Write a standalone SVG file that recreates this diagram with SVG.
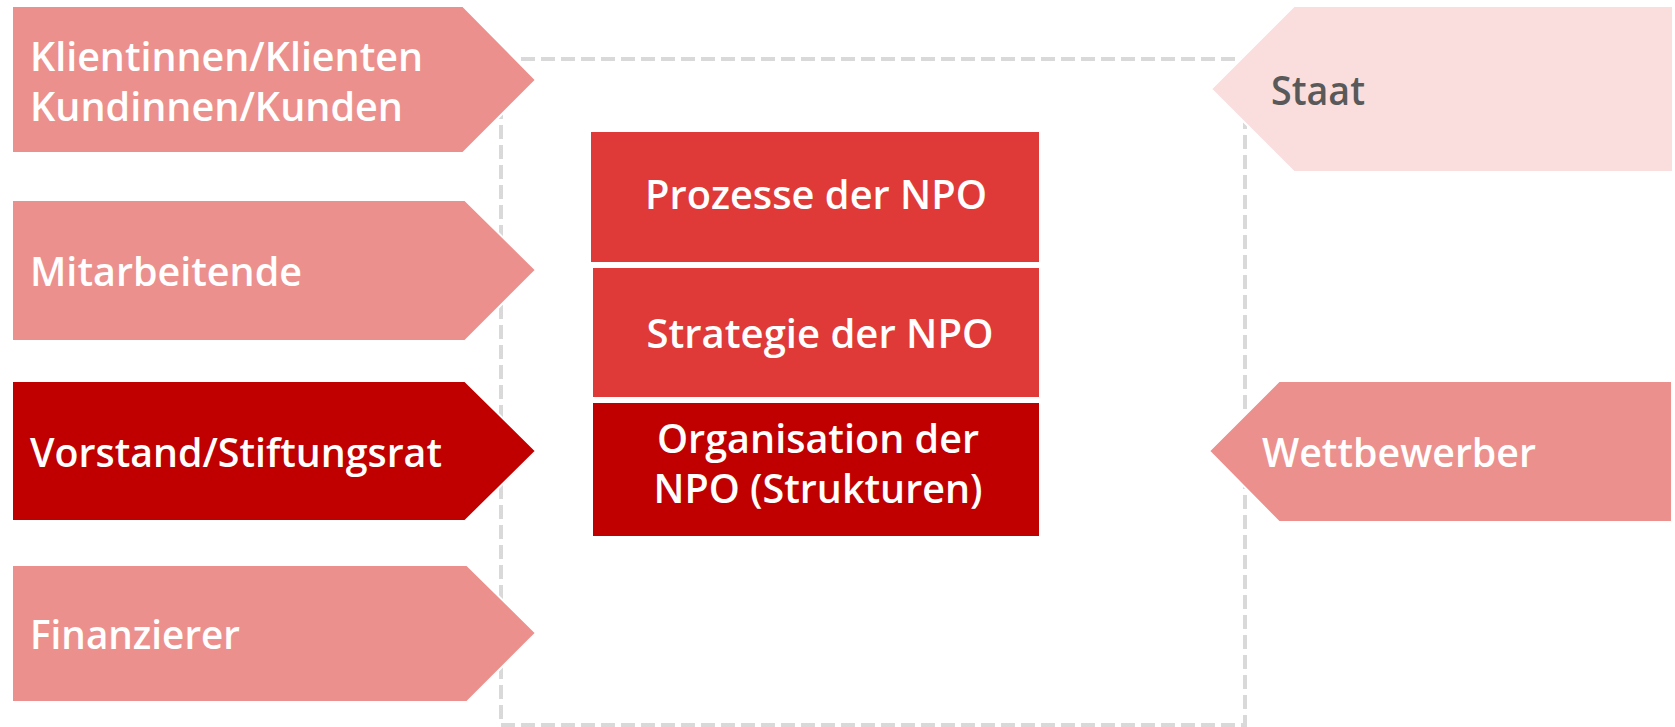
<svg xmlns="http://www.w3.org/2000/svg" width="1675" height="727" viewBox="0 0 1675 727">
<style>
.lbl{font-family:"Open Sans","Noto Sans","Liberation Sans",sans-serif;font-weight:600;font-size:40px;fill:#fff}
.pink{fill:#EC908D;stroke:#fff;stroke-width:2}
.dark{fill:#C00000;stroke:#fff;stroke-width:2}
.light{fill:#FADEDE;stroke:#fff;stroke-width:2}
.mid{fill:#DF3A37}
.ctr{text-anchor:middle}
</style>
<rect width="1675" height="727" fill="#fff"/>
<g id="connectors">
<rect x="501" y="59" width="744" height="666" fill="none" stroke="#D9D9D9" stroke-width="4" stroke-dasharray="14 6"/>
</g>
<g id="klienten">
<polygon class="pink" points="12,6 463,6 536,80 463,153 12,153"/>
<text class="lbl" x="30" y="71" textLength="393" lengthAdjust="spacingAndGlyphs">Klientinnen/Klienten</text>
<text class="lbl" x="30" y="121" textLength="373" lengthAdjust="spacingAndGlyphs">Kundinnen/Kunden</text>
</g>
<g id="mitarbeitende">
<polygon class="pink" points="12,200 465,200 536,270 465,341 12,341"/>
<text class="lbl" x="30" y="286" textLength="272" lengthAdjust="spacingAndGlyphs">Mitarbeitende</text>
</g>
<g id="vorstand">
<polygon class="dark" points="12,381 465,381 536,451 465,521 12,521"/>
<text class="lbl" x="30" y="467" textLength="412" lengthAdjust="spacingAndGlyphs">Vorstand/Stiftungsrat</text>
</g>
<g id="finanzierer">
<polygon class="pink" points="12,565 467,565 536,633 467,702 12,702"/>
<text class="lbl" x="30" y="649" textLength="210" lengthAdjust="spacingAndGlyphs">Finanzierer</text>
</g>
<g id="staat">
<polygon class="light" points="1673,6 1294,6 1211,89 1294,172 1673,172"/>
<text class="lbl" x="1271" y="105" style="fill:#595959" textLength="94" lengthAdjust="spacingAndGlyphs">Staat</text>
</g>
<g id="wettbewerber">
<polygon class="pink" points="1672,381 1279,381 1209,451 1279,522 1672,522"/>
<text class="lbl" x="1262" y="467" textLength="274" lengthAdjust="spacingAndGlyphs">Wettbewerber</text>
</g>
<g id="prozesse">
<rect class="mid" x="591" y="132" width="448" height="130"/>
<text class="lbl ctr" x="816" y="209" textLength="342" lengthAdjust="spacingAndGlyphs">Prozesse der NPO</text>
</g>
<g id="strategie">
<rect class="mid" x="593" y="268" width="446" height="129"/>
<text class="lbl ctr" x="820" y="348" textLength="347" lengthAdjust="spacingAndGlyphs">Strategie der NPO</text>
</g>
<g id="organisation">
<rect fill="#C00000" x="593" y="403" width="446" height="133"/>
<text class="lbl ctr" x="818" y="453" textLength="322" lengthAdjust="spacingAndGlyphs">Organisation der</text>
<text class="lbl ctr" x="818" y="503" textLength="329" lengthAdjust="spacingAndGlyphs">NPO (Strukturen)</text>
</g>
</svg>
